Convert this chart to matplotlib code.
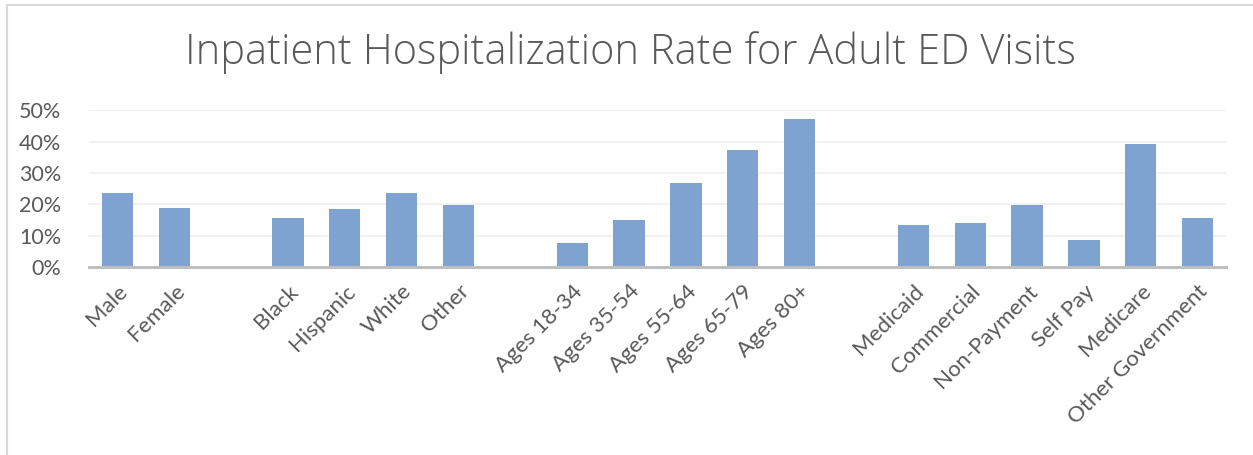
import matplotlib
matplotlib.use("Agg")
import matplotlib.pyplot as plt
from matplotlib.lines import Line2D
from matplotlib.ticker import PercentFormatter

# Categories, with blank slots separating the groups (sex, race, age, payer)
categories = ["Male", "Female", "",
              "Black", "Hispanic", "White", "Other", "",
              "Ages 18-34", "Ages 35-54", "Ages 55-64", "Ages 65-79", "Ages 80+", "",
              "Medicaid", "Commercial", "Non-Payment", "Self Pay", "Medicare",
              "Other Government"]
rates = [0.237, 0.187, None,
         0.156, 0.185, 0.236, 0.199, None,
         0.078, 0.150, 0.269, 0.374, 0.473, None,
         0.134, 0.141, 0.197, 0.087, 0.392, 0.157]
y_ticks = [0.0, 0.1, 0.2, 0.3, 0.4, 0.5]

BAR = "#7ea3d1"
TEXT = "#595959"

fig = plt.figure(figsize=(12.53, 4.55), dpi=100)
ax = fig.add_axes([0.071, 0.413, 0.9075, 0.345])

x = [i for i, v in enumerate(rates) if v is not None]
h = [v for v in rates if v is not None]
ax.bar(x, h, width=0.55, color=BAR, zorder=2)

ax.set_xlim(-0.5, len(categories) - 0.5)
ax.set_ylim(0, 0.5)
ax.set_yticks(y_ticks)
ax.yaxis.set_major_formatter(PercentFormatter(1.0, decimals=0))
ax.grid(axis="y", color="#efefef", lw=1.2, zorder=0)

ax.set_xticks(range(len(categories)))
ax.set_xticklabels(categories, rotation=45, ha="right", rotation_mode="anchor")
ax.tick_params(axis="both", length=0, labelcolor=TEXT, labelfontfamily="Lato")
ax.tick_params(axis="x", pad=10, labelsize=16)
ax.tick_params(axis="y", pad=20, labelsize=15.5)

for side in ("top", "right", "left"):
    ax.spines[side].set_visible(False)
ax.spines["bottom"].set_color("#bfbfbf")
ax.spines["bottom"].set_linewidth(2.2)
ax.spines["bottom"].set_zorder(3)

fig.text(0.503, 0.885, "Inpatient Hospitalization Rate for Adult ED Visits",
         ha="center", va="center", fontsize=30, color=TEXT,
         family="Open Sans", fontweight="light")

# chart frame (top and left edges)
fig.add_artist(Line2D([0.0055, 1.0], [0.99, 0.99], color="#d9d9d9", lw=1.5,
                      transform=fig.transFigure))
fig.add_artist(Line2D([0.0055, 0.0055], [0.0, 0.99], color="#d9d9d9", lw=1.5,
                      transform=fig.transFigure))

fig.savefig("out.png", dpi=100)
